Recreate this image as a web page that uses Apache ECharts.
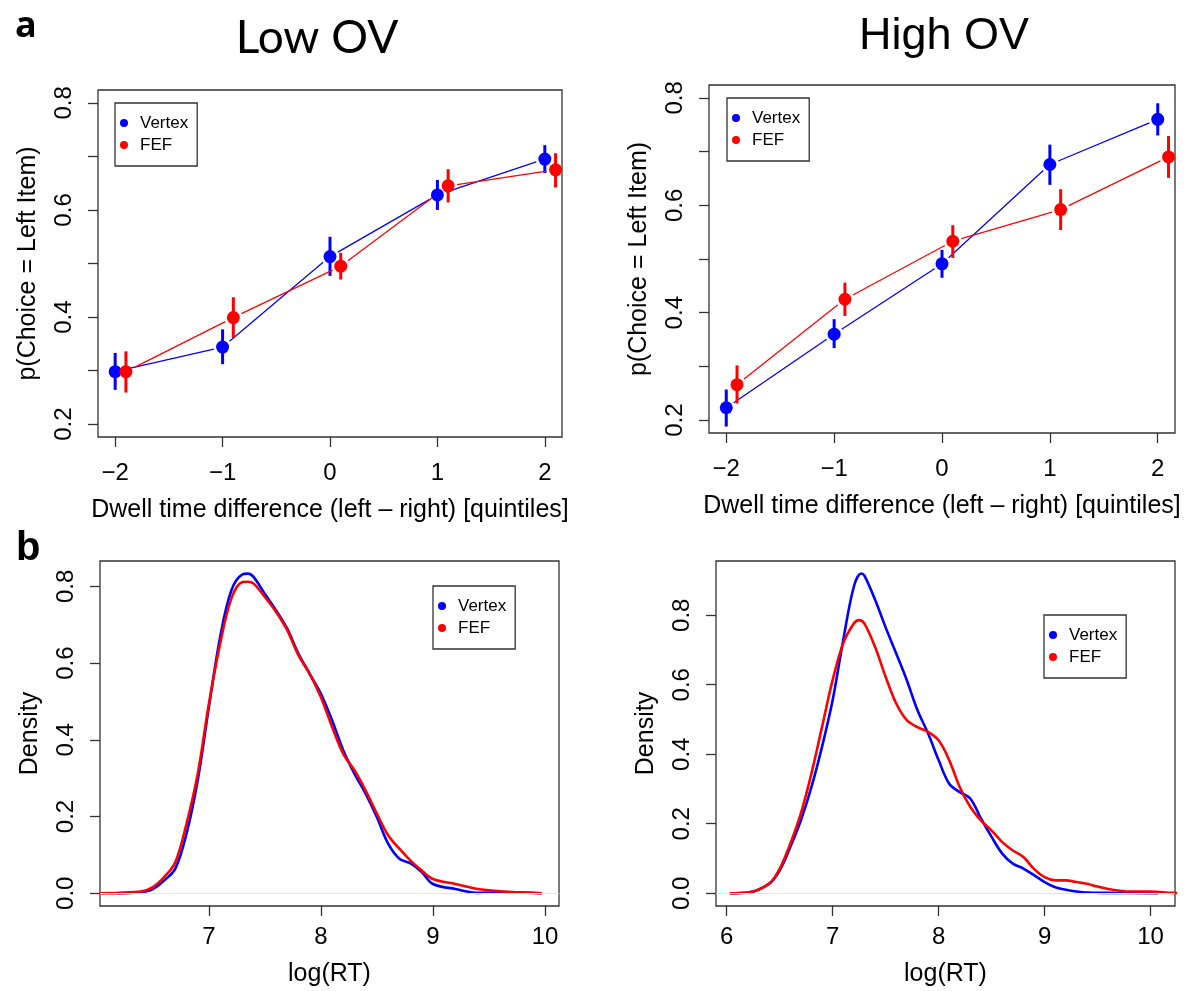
<!DOCTYPE html>
<html><head><meta charset="utf-8">
<script src="https://cdn.jsdelivr.net/npm/echarts@6/dist/echarts.min.js"></script>
<style>html,body{margin:0;padding:0;background:#fff}#c{width:1197px;height:991px}</style>
</head><body><div id="c"></div><script>
// ---------- data ----------
const quintiles = [-2, -1, 0, 1, 2];
const fefX = [-1.9, -0.9, 0.1, 1.1, 2.1];

const lowVertexMean = [0.298, 0.344, 0.513, 0.628, 0.695];
const lowVertexLo   = [0.264, 0.312, 0.477, 0.600, 0.669];
const lowVertexHi   = [0.333, 0.377, 0.550, 0.656, 0.721];
const lowFefMean    = [0.298, 0.399, 0.495, 0.645, 0.675];
const lowFefLo      = [0.259, 0.361, 0.470, 0.614, 0.642];
const lowFefHi      = [0.336, 0.437, 0.520, 0.676, 0.706];

const highVertexMean = [0.223, 0.360, 0.491, 0.676, 0.760];
const highVertexLo   = [0.188, 0.334, 0.465, 0.638, 0.730];
const highVertexHi   = [0.257, 0.388, 0.517, 0.713, 0.790];
const highFefMean    = [0.266, 0.425, 0.533, 0.592, 0.690];
const highFefLo      = [0.231, 0.394, 0.502, 0.554, 0.651];
const highFefHi      = [0.302, 0.456, 0.563, 0.630, 0.729];

// density, Low OV
const lowVertexRT  = [6.18, 6.3, 6.4, 6.5, 6.6, 6.7, 6.8, 6.9, 7.0, 7.1, 7.2, 7.3, 7.35, 7.4, 7.5, 7.6, 7.7, 7.8, 7.9, 8.0, 8.1, 8.2, 8.3, 8.4, 8.5, 8.6, 8.7, 8.8, 8.9, 9.0, 9.2, 9.4, 9.6, 9.8, 9.97];
const lowVertexDen = [0.0, 0.001, 0.003, 0.011, 0.033, 0.064, 0.155, 0.294, 0.485, 0.667, 0.789, 0.831, 0.833, 0.824, 0.780, 0.737, 0.689, 0.624, 0.572, 0.520, 0.450, 0.372, 0.311, 0.259, 0.198, 0.129, 0.090, 0.078, 0.055, 0.024, 0.011, 0.001, 0.003, 0.002, 0.0];
const lowFefRT  = [6.03, 6.2, 6.4, 6.5, 6.6, 6.7, 6.8, 6.9, 7.0, 7.1, 7.2, 7.3, 7.35, 7.4, 7.5, 7.6, 7.7, 7.8, 7.9, 8.0, 8.1, 8.2, 8.3, 8.4, 8.5, 8.6, 8.7, 8.8, 8.9, 9.0, 9.2, 9.4, 9.6, 9.8, 9.97];
const lowFefDen = [0.0, 0.001, 0.005, 0.016, 0.042, 0.081, 0.181, 0.311, 0.494, 0.650, 0.768, 0.811, 0.812, 0.807, 0.772, 0.733, 0.685, 0.620, 0.572, 0.511, 0.433, 0.363, 0.320, 0.267, 0.207, 0.151, 0.116, 0.085, 0.059, 0.037, 0.024, 0.011, 0.005, 0.002, 0.0];

// density, High OV
const highVertexRT  = [6.03, 6.2, 6.4, 6.5, 6.6, 6.7, 6.8, 6.9, 7.0, 7.1, 7.2, 7.27, 7.3, 7.4, 7.5, 7.6, 7.7, 7.8, 7.9, 8.0, 8.1, 8.2, 8.3, 8.4, 8.5, 8.6, 8.7, 8.8, 8.9, 9.0, 9.1, 9.2, 9.3, 9.4, 9.6, 10.07];
const highVertexDen = [0.0, 0.002, 0.027, 0.065, 0.132, 0.209, 0.305, 0.421, 0.555, 0.728, 0.882, 0.920, 0.914, 0.845, 0.765, 0.690, 0.613, 0.527, 0.460, 0.383, 0.315, 0.291, 0.272, 0.215, 0.162, 0.114, 0.085, 0.071, 0.052, 0.032, 0.017, 0.010, 0.005, 0.002, 0.001, 0.0];
const highFefRT  = [6.03, 6.2, 6.4, 6.5, 6.6, 6.7, 6.8, 6.9, 7.0, 7.1, 7.2, 7.25, 7.3, 7.4, 7.5, 7.6, 7.7, 7.8, 7.9, 8.0, 8.1, 8.2, 8.3, 8.4, 8.5, 8.6, 8.7, 8.8, 8.9, 9.0, 9.1, 9.2, 9.3, 9.4, 9.5, 9.6, 9.8, 10.0, 10.2, 10.35];
const highFefDen = [0.0, 0.002, 0.027, 0.070, 0.142, 0.229, 0.344, 0.478, 0.613, 0.719, 0.776, 0.786, 0.776, 0.709, 0.623, 0.546, 0.498, 0.478, 0.464, 0.440, 0.383, 0.305, 0.248, 0.209, 0.180, 0.147, 0.123, 0.104, 0.070, 0.046, 0.037, 0.037, 0.032, 0.027, 0.019, 0.012, 0.005, 0.005, 0.001, 0.0];

// tick labels / texts
const quintileTicks = [-2, -1, 0, 1, 2];
const probTicks = [0.2, 0.3, 0.4, 0.5, 0.6, 0.7, 0.8];
const probLabels = [0.2, 0.4, 0.6, 0.8];
const densTicks = [0, 0.2, 0.4, 0.6, 0.8];
const lowRTTicks = [7, 8, 9, 10];
const highRTTicks = [6, 7, 8, 9, 10];
const seriesNames = ['Vertex', 'FEF'];
const panelTitles = ['Low OV', 'High OV'];
const xNameTop = 'Dwell time difference (left \u2013 right) [quintiles]';
const yNameTop = 'p(Choice = Left Item)';
const xNameBottom = 'log(RT)';
const yNameBottom = 'Density';

// ---------- chart ----------
const FONT = '"Liberation Sans", Arial, sans-serif';
const BLUE = '#0000ff', RED = '#ff0000';
const chart = echarts.init(document.getElementById('c'), null, {renderer: 'canvas'});

const grids = [
  {left: 98, top: 90, width: 464, height: 347},
  {left: 709, top: 85, width: 466, height: 348},
  {left: 100, top: 561, width: 459, height: 345},
  {left: 716, top: 561, width: 459, height: 345}
].map(g => Object.assign({show: true, borderColor: '#333', borderWidth: 1.3, backgroundColor: 'transparent'}, g));

function minusFmt(v) { return v < 0 ? '\u2212' + Math.abs(v) : String(v); }

function xAx(gi, min, max, ticks, name, margin, gap) {
  return {
    type: 'value', gridIndex: gi, min, max, position: 'bottom',
    axisLine: {show: false, onZero: false}, splitLine: {show: false},
    axisTick: {show: true, length: 10, customValues: ticks, lineStyle: {color: '#333', width: 1.3}},
    axisLabel: {customValues: ticks, margin, fontSize: 24, color: '#000', fontFamily: FONT, formatter: minusFmt},
    name, nameLocation: 'middle', nameGap: gap,
    nameTextStyle: {fontSize: 25, color: '#000', fontFamily: FONT}
  };
}
function yAx(gi, min, max, ticks, labels, name) {
  return {
    type: 'value', gridIndex: gi, min, max, position: 'left',
    axisLine: {show: false, onZero: false}, splitLine: {show: false},
    axisTick: {show: true, length: 10, customValues: ticks, lineStyle: {color: '#333', width: 1.3}},
    axisLabel: {customValues: labels, rotate: 90, margin: 22, fontSize: 24, color: '#000', fontFamily: FONT,
      formatter: v => v.toFixed(1)},
    name, nameLocation: 'middle', nameGap: 57,
    nameTextStyle: {fontSize: 25, color: '#000', fontFamily: FONT}
  };
}

const GAP = 9;
function gapLine(color) {
  return function (params, api) {
    const a = api.coord([api.value(0), api.value(1)]);
    const b = api.coord([api.value(2), api.value(3)]);
    const dx = b[0] - a[0], dy = b[1] - a[1];
    const L = Math.hypot(dx, dy) || 1;
    const ux = dx / L, uy = dy / L;
    return {type: 'line', shape: {x1: a[0] + ux * GAP, y1: a[1] + uy * GAP, x2: b[0] - ux * GAP, y2: b[1] - uy * GAP},
      style: {stroke: color, lineWidth: 1.3}};
  };
}
function errBar(color) {
  return function (params, api) {
    const a = api.coord([api.value(0), api.value(1)]);
    const b = api.coord([api.value(0), api.value(2)]);
    return {type: 'line', shape: {x1: a[0], y1: a[1], x2: b[0], y2: b[1]}, style: {stroke: color, lineWidth: 3}};
  };
}

function pointGroup(gi, name, color, xs, mean, lo, hi) {
  const segs = [];
  for (let i = 0; i < xs.length - 1; i++) segs.push([xs[i], mean[i], xs[i + 1], mean[i + 1]]);
  const bars = xs.map((x, i) => [x, lo[i], hi[i]]);
  const pts = xs.map((x, i) => [x, mean[i]]);
  return [
    {type: 'custom', name: name + '-line', xAxisIndex: gi, yAxisIndex: gi, renderItem: gapLine(color),
      data: segs, encode: {x: [0, 2], y: [1, 3]}, silent: true},
    {type: 'custom', name: name + '-err', xAxisIndex: gi, yAxisIndex: gi, renderItem: errBar(color),
      data: bars, encode: {x: 0, y: [1, 2]}, silent: true},
    {type: 'scatter', name, xAxisIndex: gi, yAxisIndex: gi, data: pts, symbol: 'circle', symbolSize: 13,
      itemStyle: {color: color, opacity: 1}, silent: true}
  ];
}

function densSeries(gi, name, color, xs, ys) {
  return {type: 'line', name, xAxisIndex: gi, yAxisIndex: gi, data: xs.map((x, i) => [x, ys[i]]),
    showSymbol: false, symbol: 'none', smooth: 0.35, clip: true,
    lineStyle: {color, width: 2.6}, itemStyle: {color}, silent: true};
}
function zeroLine(gi) {
  return {type: 'line', name: 'zero' + gi, xAxisIndex: gi, yAxisIndex: gi, data: [], silent: true,
    markLine: {silent: true, symbol: 'none', label: {show: false}, animation: false,
      lineStyle: {color: '#e4e4e4', width: 1, type: 'solid'}, data: [{yAxis: 0}]}};
}

function legendAt(left, top) {
  return {
    show: true, orient: 'vertical', left, top, data: seriesNames, icon: 'circle', selectedMode: false,
    itemWidth: 22, itemHeight: 8, itemGap: 2, padding: [10, 9, 11, 5],
    borderColor: '#333', borderWidth: 1.3, backgroundColor: '#fff',
    textStyle: {fontSize: 17, color: '#000', fontFamily: FONT, lineHeight: 20}
  };
}

const option = {
  animation: false,
  grid: grids,
  xAxis: [
    xAx(0, -2.16, 2.16, quintileTicks, xNameTop, 24, 61),
    xAx(1, -2.16, 2.16, quintileTicks, xNameTop, 24, 61),
    xAx(2, 6.028, 10.125, lowRTTicks, xNameBottom, 19, 56),
    xAx(3, 5.9, 10.23, highRTTicks, xNameBottom, 19, 56)
  ],
  yAxis: [
    yAx(0, 0.176, 0.824, probTicks, probLabels, yNameTop),
    yAx(1, 0.176, 0.824, probTicks, probLabels, yNameTop),
    yAx(2, -0.0333, 0.866, densTicks, densTicks, yNameBottom),
    yAx(3, -0.0368, 0.956, densTicks, densTicks, yNameBottom)
  ],
  legend: [legendAt(115, 103), legendAt(727, 98), legendAt(433, 586), legendAt(1044, 615)],
  series: [].concat(
    pointGroup(0, 'Vertex', BLUE, quintiles, lowVertexMean, lowVertexLo, lowVertexHi),
    pointGroup(0, 'FEF', RED, fefX, lowFefMean, lowFefLo, lowFefHi),
    pointGroup(1, 'Vertex', BLUE, quintiles, highVertexMean, highVertexLo, highVertexHi),
    pointGroup(1, 'FEF', RED, fefX, highFefMean, highFefLo, highFefHi),
    [zeroLine(2), densSeries(2, 'Vertex', BLUE, lowVertexRT, lowVertexDen), densSeries(2, 'FEF', RED, lowFefRT, lowFefDen)],
    [zeroLine(3), densSeries(3, 'Vertex', BLUE, highVertexRT, highVertexDen), densSeries(3, 'FEF', RED, highFefRT, highFefDen)]
  ),
  graphic: [
    {type: 'text', x: 317, y: 38, style: {text: panelTitles[0], font: '400 46px Lato, "Open Sans", sans-serif', fill: '#000', align: 'center', verticalAlign: 'middle'}},
    {type: 'text', x: 944, y: 37, style: {text: panelTitles[1], font: '400 45px "Liberation Sans", Arial, sans-serif', fill: '#000', align: 'center', verticalAlign: 'middle'}},
    {type: 'text', x: 15, y: 27, style: {text: 'a', font: '700 36px "Open Sans", sans-serif', fill: '#000', align: 'left', verticalAlign: 'middle'}},
    {type: 'text', x: 16, y: 549, style: {text: 'b', font: '700 40px "Liberation Sans", Arial, sans-serif', fill: '#000', align: 'left', verticalAlign: 'middle'}}
  ]
};
chart.setOption(option);
</script></body></html>
